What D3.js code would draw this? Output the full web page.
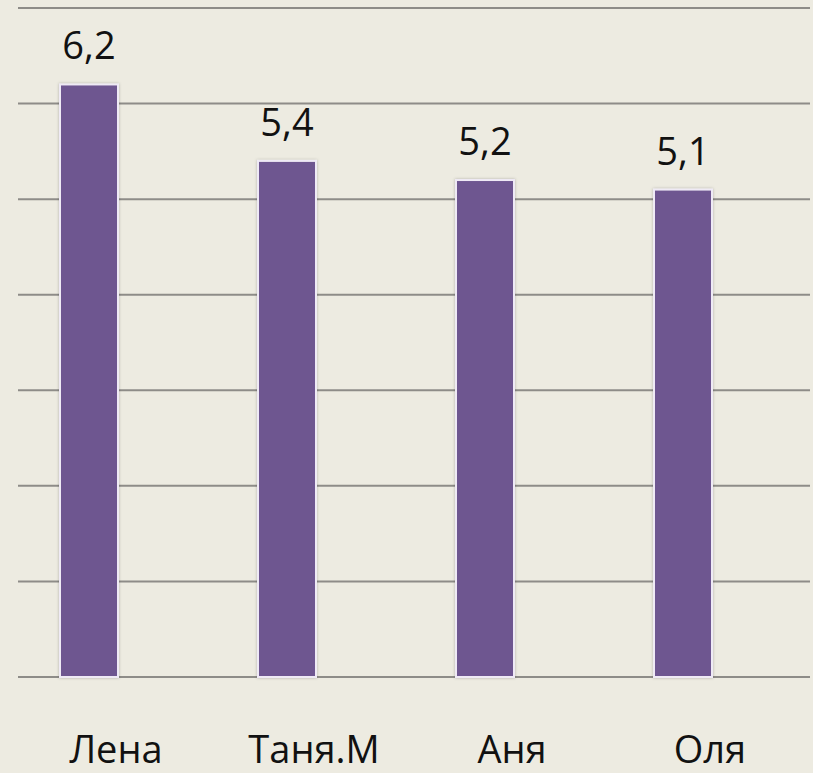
<!DOCTYPE html>
<html>
<head>
<meta charset="utf-8">
<script src="https://cdn.jsdelivr.net/npm/d3@7"></script>
<style>
  html, body { margin: 0; padding: 0; background: #EDEBE1; }
  svg { display: block; }
</style>
</head>
<body>
<svg id="chart" width="813" height="773"></svg>
<script>
const categories = ["Лена", "Таня.М", "Аня", "Оля"];
const values = [6.2, 5.4, 5.2, 5.1];
const valueLabels = ["6,2", "5,4", "5,2", "5,1"];
const gridTicks = [0, 1, 2, 3, 4, 5, 6, 7];

const svg = d3.select("#chart");
const W = 813, H = 773;

svg.append("rect").attr("width", W).attr("height", H).attr("fill", "#EDEBE1");

const y = d3.scaleLinear().domain([0, 7]).range([677, 8]);
const x = d3.scalePoint().domain(categories).range([89, 683]);
const barW = 58;

// gridlines
svg.append("g").selectAll("line").data(gridTicks).join("line")
  .attr("x1", 18).attr("x2", 810)
  .attr("y1", d => y(d)).attr("y2", d => y(d))
  .attr("stroke", "#8E8C88").attr("stroke-width", 2);

const defs = svg.append("defs");
const f = defs.append("filter").attr("id", "sh").attr("x", "-20%").attr("y", "-5%").attr("width", "140%").attr("height", "110%");
f.append("feDropShadow").attr("dx", 0).attr("dy", 0).attr("stdDeviation", 1.5).attr("flood-color", "#000").attr("flood-opacity", 0.25);

// bars
svg.append("g").selectAll("rect").data(categories).join("rect")
  .attr("x", d => x(d) - barW / 2)
  .attr("y", (d, i) => y(values[i]))
  .attr("width", barW)
  .attr("height", (d, i) => y(0) - y(values[i]))
  .attr("fill", "#6E5690")
  .attr("stroke", "#EFEAF5")
  .attr("stroke-width", 2)
  .attr("filter", "url(#sh)");

// value labels
svg.append("g").selectAll("text").data(categories).join("text")
  .attr("x", d => x(d))
  .attr("y", (d, i) => y(values[i]) - 25)
  .attr("text-anchor", "middle")
  .attr("font-family", "'Open Sans', sans-serif")
  .attr("font-size", 38)
  .attr("fill", "#111")
  .text((d, i) => valueLabels[i]);

// category labels
svg.append("g").selectAll("text").data(categories).join("text")
  .attr("x", d => x(d) + 27)
  .attr("y", 763)
  .attr("text-anchor", "middle")
  .attr("font-family", "'Open Sans', sans-serif")
  .attr("font-size", 38)
  .attr("fill", "#111")
  .text(d => d);
</script>
</body>
</html>
